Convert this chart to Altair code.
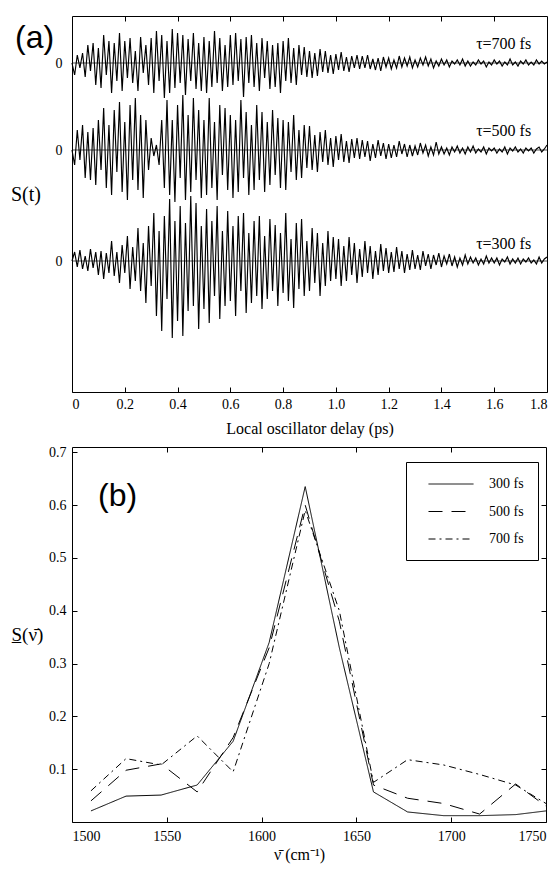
import altair as alt
import pandas as pd

SERIF = "Liberation Serif"
SANS = "Liberation Sans"

# ---------------- panel (a): time-domain traces ----------------
t_ps = [i / 100 for i in range(181)]  # local oscillator delay grid (ps)

s_300 = [
    0, 9, -6, 11, -8, 5, -10, 12, -7, 9,
    -14, 10, -18, 8, -12, 20, -15, 9, -22, 16,
    -12, 25, -28, 14, -20, 33, -30, 18, -42, 35,
    -25, 48, -55, 30, -70, 45, -38, 62, -77, 40,
    -60, 55, -75, 38, -50, 65, -45, 58, -68, 35,
    -48, 52, -62, 40, -35, 55, -58, 30, -45, 50,
    -40, 35, -55, 45, -30, 48, -52, 28, -42, 40,
    -35, 45, -48, 25, -38, 42, -30, 36, -45, 28,
    -32, 48, -40, 22, -47, 38, -28, 42, -35, 20,
    -30, 33, -22, 28, -35, 18, -25, 30, -20, 24,
    -18, 22, -25, 15, -20, 24, -14, 18, -22, 12,
    -16, 20, -12, 15, -18, 10, -14, 17, -10, 13,
    -12, 9, -11, 14, -8, 10, -12, 7, -9, 11,
    -8, 6, -9, 10, -5, 7, -8, 6, -4, 8,
    -6, 5, -3, 7, -5, 4, -6, 3, -4, 6,
    -3, 4, -2, 3, -4, 2, -3, 5, -2, 3,
    -2, 3, -4, 2, -1, 4, -3, 2, -2, 3,
    -3, 2, -1, 3, -2, 1, -3, 4, -2, 2,
    4,
]
s_500 = [
    0, -15, 20, -10, 25, -28, 18, -30, 22, -35,
    30, -20, 42, -38, 25, -45, 40, -22, 48, -42,
    28, -50, 45, -30, 52, -40, 35, -48, 30, -20,
    12, -6, 5, -15, 30, -38, 50, -45, 30, -52,
    45, -28, 55, -50, 35, -42, 52, -30, 40, -48,
    30, -45, 52, -38, 28, -50, 45, -25, 42, -40,
    35, -48, 30, -42, 50, -28, 38, -45, 25, -40,
    45, -30, 38, -42, 28, -35, 40, -25, 32, -38,
    30, -40, 28, -22, 35, -30, 20, -28, 25, -18,
    24, -20, 15, -22, 18, -12, 20, -15, 12, -17,
    14, -10, 16, -12, 9, -13, 11, -8, 12, -9,
    10, -7, 9, -11, 6, -8, 10, -6, 7, -9,
    6, -8, 5, -7, 9, -4, 6, -7, 5, -6,
    4, -5, 7, -3, 5, -6, 3, -5, 8, -4,
    3, -4, 2, -5, 3, -2, 4, -3, 2, -4,
    3, -2, 4, -3, 1, -2, 3, -4, 2, -1,
    2, -3, 1, -2, 3, -4, 2, -1, 3, -2,
    1, -3, 2, -1, 2, -3, 1, 3, -2, 1,
    5,
]
s_700 = [
    0, -12, 8, -5, 10, -14, 18, -8, 20, -22,
    15, -25, 28, -12, 22, -30, 20, -18, 30, -28,
    22, -15, 25, -20, 12, -28, 26, -10, 18, -22,
    25, -30, 32, -18, 28, -35, 22, -30, 34, -25,
    30, -20, 28, -32, 24, -18, 30, -26, 20, -28,
    26, -30, 22, -24, 32, -20, 25, -28, 18, -24,
    28, -22, 30, -18, 24, -34, 26, -20, 28, -24,
    20, -28, 25, -15, 22, -26, 18, -24, 20, -30,
    22, -18, 25, -20, 15, -22, 18, -12, 16, -14,
    12, -15, 10, -13, 14, -9, 12, -10, 8, -11,
    9, -7, 11, -8, 6, -9, 7, -5, 8, -6,
    7, -5, 8, -6, 4, -7, 5, -8, 6, -4,
    5, -6, 3, -5, 7, -4, 5, -3, 6, -5,
    3, -4, 5, -2, 6, -3, 4, -5, 2, -3,
    4, -2, 3, -4, 2, -1, 3, -2, 4, -3,
    2, -3, 1, -2, 3, -1, 2, -4, 1, -2,
    3, -1, 2, -3, 1, -2, 4, -2, 1, -3,
    2, -1, 3, -2, 1, -2, 3, -1, 2, -1,
    1,
]
delays = ["300 fs", "500 fs", "700 fs"]
trace_offsets = [131, 242, 329]          # vertical stacking offsets (arb. units)
tau_text = ["τ=300 fs", "τ=500 fs", "τ=700 fs"]
tau_label_t = 1.74
tau_label_rise = [17, 19, 19]

rows = []
for name, off, sig in zip(delays, trace_offsets, [s_300, s_500, s_700]):
    for t, v in zip(t_ps, sig):
        rows.append({"t": t, "y": off + v, "series": name})
df_a = pd.DataFrame(rows)
df_base = pd.DataFrame({"y": trace_offsets, "series": delays})
df_tau = pd.DataFrame({"t": [tau_label_t] * 3,
                       "y": [o + r for o, r in zip(trace_offsets, tau_label_rise)],
                       "txt": tau_text})

x_ticks_a = [0, 0.2, 0.4, 0.6, 0.8, 1.0, 1.2, 1.4, 1.6, 1.8]
xs_a = alt.Scale(domain=[0, 1.8], nice=False, zero=False)
ys_a = alt.Scale(domain=[0, 376], nice=False, zero=False)

ax_common = dict(grid=False, domain=False, tickColor="black", labelColor="black",
                 titleColor="black", labelFont=SERIF, titleFont=SERIF,
                 titleFontWeight="normal")

xa_bottom = alt.X("t:Q", scale=xs_a, axis=alt.Axis(
    values=x_ticks_a, labelExpr="datum.value == 0 ? '0' : format(datum.value, '.1f')",
    title="Local oscillator delay (ps)", tickSize=5, offset=-5, labelPadding=5,
    titlePadding=9, labelFontSize=14, titleFontSize=16, **ax_common))
xa_top = alt.X("t:Q", scale=xs_a, axis=alt.Axis(
    orient="top", values=x_ticks_a[1:-1], labels=False, title=None,
    tickSize=5, offset=-5, **ax_common))
ya = alt.Y("y:Q", scale=ys_a, axis=alt.Axis(
    values=trace_offsets, labelExpr="'0'", tickSize=0, labelPadding=10,
    labelFontSize=14, title="S(t)", titleAngle=0, titleX=-61.5, titleY=178,
    titleAlign="left", titleBaseline="middle", titleFontSize=20, **ax_common))

traces = alt.Chart(df_a).mark_line(color="black", strokeWidth=1.15).encode(
    x=xa_bottom, y=ya, detail="series:N")
baselines = alt.Chart(df_base).mark_rule(color="black", strokeWidth=0.7).encode(y=ya)
tau = alt.Chart(df_tau).mark_text(font=SERIF, fontSize=16, align="right",
                                  baseline="middle", color="black").encode(
    x=xa_top, y=ya, text="txt:N")
lab_a = alt.Chart(pd.DataFrame({"lab": ["(a)"]})).mark_text(
    font=SANS, fontSize=32, align="left", baseline="middle", color="black").encode(
    text="lab:N", x=alt.value(-57), y=alt.value(22))

panel_a = alt.layer(traces, baselines, tau, lab_a).resolve_axis(x="independent").properties(
    width=475, height=376)

# ---------------- panel (b): spectra ----------------
wavenumber = [1510, 1528.5, 1547, 1566, 1585, 1604, 1623, 1641, 1659, 1677, 1696, 1715, 1734, 1750]
spec_300 = [0.021, 0.049, 0.051, 0.070, 0.153, 0.34, 0.635, 0.33, 0.057, 0.019, 0.012, 0.012, 0.014, 0.021]
spec_500 = [0.040, 0.098, 0.110, 0.057, 0.160, 0.33, 0.600, 0.38, 0.070, 0.045, 0.035, 0.015, 0.072, 0.030]
spec_700 = [0.059, 0.120, 0.108, 0.163, 0.095, 0.30, 0.590, 0.40, 0.075, 0.118, 0.108, 0.090, 0.070, 0.035]

rows = []
for name, vals in zip(delays, [spec_300, spec_500, spec_700]):
    for w, v in zip(wavenumber, vals):
        rows.append({"w": w, "val": v, "series": name})
df_b = pd.DataFrame(rows)

xs_b = alt.Scale(domain=[1500, 1750], nice=False, zero=False)
ys_b = alt.Scale(domain=[0, 0.71], nice=False, zero=False)
x_ticks_b = [1500, 1550, 1600, 1650, 1700, 1750]
y_ticks_b = [0.1, 0.2, 0.3, 0.4, 0.5, 0.6, 0.7]

xb = alt.X("w:Q", scale=xs_b, axis=alt.Axis(
    values=x_ticks_b, format="d", labelFlush=True, title="ν̄ (cm⁻¹)",
    titleX=227, tickSize=5, offset=-5, labelPadding=7, titlePadding=3,
    labelFontSize=14, titleFontSize=16, **ax_common))
yb = alt.Y("val:Q", scale=ys_b, axis=alt.Axis(
    values=y_ticks_b, format=".1f", tickSize=5, offset=-5, labelPadding=6,
    labelFontSize=14, title="S̲(ν̄)", titleAngle=0, titleX=-66, titleY=187,
    titleAlign="left", titleBaseline="middle", titleFontSize=19, **ax_common))
xb_top = alt.X("w:Q", scale=xs_b, axis=alt.Axis(
    orient="top", values=x_ticks_b[1:-1], labels=False, title=None,
    tickSize=5, offset=-5, **ax_common))
yb_right = alt.Y("val:Q", scale=ys_b, axis=alt.Axis(
    orient="right", values=y_ticks_b[:-1], labels=False, title=None,
    tickSize=5, offset=-5, **ax_common))

dash = alt.StrokeDash("series:N", scale=alt.Scale(
    domain=delays, range=[[1, 0], [14, 9], [7, 4, 2, 4]]),
    legend=alt.Legend(title=None, orient="none", legendX=334, legendY=446,
                      strokeColor="black", padding=14, symbolType="M-3,0H3",
                      symbolSize=225, symbolStrokeWidth=1, symbolStrokeColor="black",
                      symbolFillColor="transparent", symbolOffset=23,
                      labelOffset=30, rowPadding=12.5, labelFont=SERIF,
                      labelFontSize=14, labelColor="black"))

spectra = alt.Chart(df_b).mark_line(color="black", strokeWidth=1).encode(
    x=xb, y=yb, strokeDash=dash)
frame_ticks = alt.Chart(df_b).mark_point(opacity=0).encode(x=xb_top, y=yb_right)
lab_b = alt.Chart(pd.DataFrame({"lab": ["(b)"]})).mark_text(
    font=SANS, fontSize=32, align="left", baseline="middle", color="black").encode(
    text="lab:N", x=alt.value(26), y=alt.value(49))

panel_b = alt.layer(spectra, frame_ticks, lab_b).resolve_axis(
    x="independent", y="independent").properties(width=474, height=375)

chart = alt.vconcat(panel_a, panel_b, spacing=7).properties(
    padding={"left": 10, "top": 15, "right": 0, "bottom": 4},
    background="white",
).configure_view(stroke="black", strokeWidth=1)

chart.save("out.html", embed_options={"renderer": "svg", "actions": False})
